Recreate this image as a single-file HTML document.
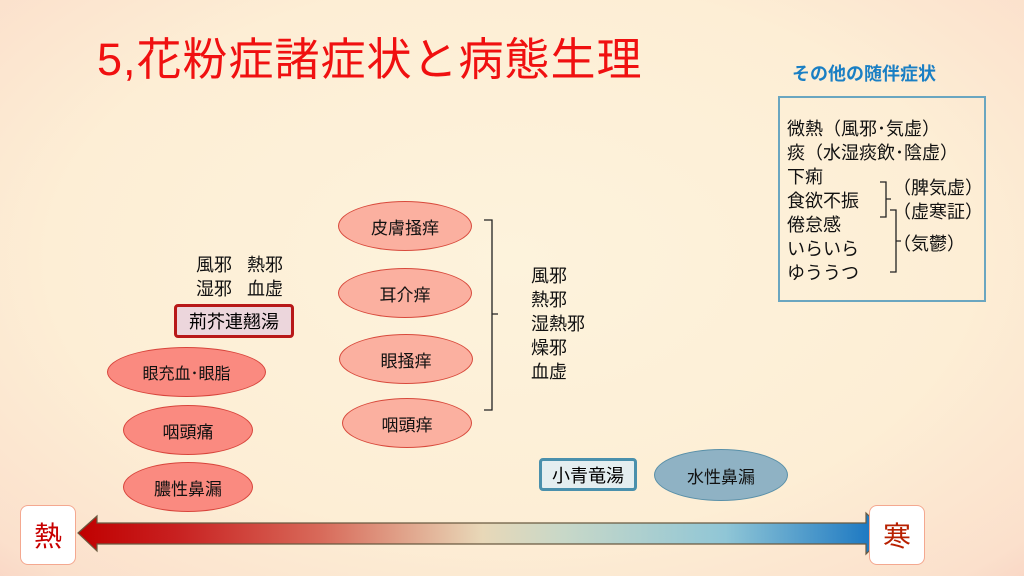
<!DOCTYPE html>
<html><head><meta charset="utf-8"><style>
*{margin:0;padding:0;box-sizing:border-box}
body{width:1024px;height:576px;overflow:hidden;position:relative;font-family:"Liberation Sans","Noto Sans CJK JP",sans-serif;
background:radial-gradient(ellipse 75% 80% at 50% 45%,#fdf3dc 0%,#fdeed5 60%,#fbe0cc 90%,#f8d2c2 100%);}
.a{position:absolute;white-space:nowrap}
.t{font-size:18px;color:#111;line-height:24px}
.el{position:absolute;border-radius:50%;display:flex;align-items:center;justify-content:center;font-size:17px;color:#111}
.l{background:#fa8a80;border:1px solid #d8453c}
.m{background:#fbb0a0;border:1px solid #d84a3c}
</style></head><body>
<div class="a" style="left:97px;top:30px;font-size:45px;color:#f01010;letter-spacing:1px;line-height:60px">5,花粉症諸症状と病態生理</div>
<div class="a" style="left:792px;top:60px;font-size:18px;font-weight:bold;color:#1a7fc4">その他の随伴症状</div>
<div class="a" style="left:778px;top:96px;width:208px;height:206px;border:2px solid #6aa6c0"></div>
<div class="a t" style="left:787px;top:117px">微熱（風邪･気虚）<br>痰（水湿痰飲･陰虚）<br>下痢<br>食欲不振<br>倦怠感<br>いらいら<br>ゆううつ</div>
<div class="a t" style="left:893px;top:176px">（脾気虚）<br>（虚寒証）</div>
<div class="a t" style="left:893px;top:232px">（気鬱）</div>
<svg class="a" style="left:0;top:0" width="1024" height="576">
<g fill="none" stroke="#222" stroke-width="1.3">
<path d="M880 182 h6 v35 h-6 M886 199 h5"/>
<path d="M890 210 h6 v62 h-6 M896 241 h5"/>
<path d="M484 220 h8 v94 M492 314 h6 M492 314 v96 h-8"/>
</g>
<defs><linearGradient id="g" x1="0" x2="1">
<stop offset="0" stop-color="#c00000"/><stop offset="0.12" stop-color="#c82020"/><stop offset="0.3" stop-color="#d86a5a"/><stop offset="0.5" stop-color="#e8d8b8"/><stop offset="0.6" stop-color="#c8d8c8"/><stop offset="0.8" stop-color="#90c6d6"/><stop offset="1" stop-color="#1070c0"/></linearGradient></defs>
<path d="M78 533 L97 516 V523 H866 V513 L887 533 L866 554 V544 H97 V551 Z" fill="url(#g)" stroke="#6a5a40" stroke-width="1.2"/>
</svg>
<div class="a" style="left:20px;top:505px;width:56px;height:60px;background:#fff;border:1px solid #f4a890;border-radius:8px;color:#c80000;font-size:28px;display:flex;align-items:center;justify-content:center">熱</div>
<div class="a" style="left:869px;top:505px;width:56px;height:60px;background:#fff;border:1px solid #f4a890;border-radius:8px;color:#b82000;font-size:28px;display:flex;align-items:center;justify-content:center">寒</div>
<div class="a t" style="left:196px;top:253px">風邪&nbsp;&nbsp;&nbsp;熱邪<br>湿邪&nbsp;&nbsp;&nbsp;血虚</div>
<div class="a" style="left:174px;top:304px;width:120px;height:34px;background:#ecd6dc;border:3px solid #b81818;border-radius:4px;font-size:18px;display:flex;align-items:center;justify-content:center">荊芥連翹湯</div>
<div class="el l" style="left:107px;top:347px;width:159px;height:50px;font-size:16px">眼充血･眼脂</div>
<div class="el l" style="left:123px;top:405px;width:130px;height:50px">咽頭痛</div>
<div class="el l" style="left:123px;top:462px;width:130px;height:50px">膿性鼻漏</div>
<div class="el m" style="left:338px;top:201px;width:134px;height:50px">皮膚掻痒</div>
<div class="el m" style="left:338px;top:268px;width:134px;height:50px">耳介痒</div>
<div class="el m" style="left:339px;top:334px;width:134px;height:50px">眼掻痒</div>
<div class="el m" style="left:342px;top:398px;width:130px;height:50px">咽頭痒</div>
<div class="a t" style="left:531px;top:264px">風邪<br>熱邪<br>湿熱邪<br>燥邪<br>血虚</div>
<div class="a" style="left:539px;top:458px;width:98px;height:33px;background:#e4eef0;border:3px solid #4a90ac;border-radius:4px;font-size:18px;display:flex;align-items:center;justify-content:center">小青竜湯</div>
<div class="el" style="left:654px;top:449px;width:134px;height:52px;background:#8fb2c4;border:1px solid #5a90a8">水性鼻漏</div>
</body></html>
